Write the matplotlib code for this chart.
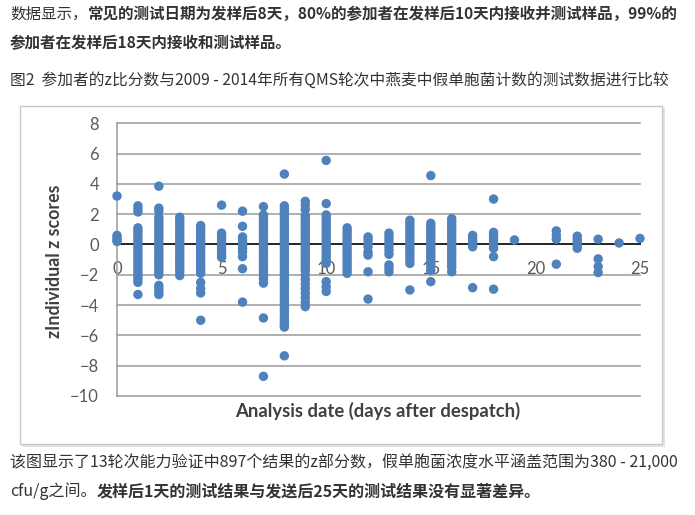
import numpy as np
import matplotlib
matplotlib.use("Agg")
import matplotlib.pyplot as plt
from matplotlib.patches import Rectangle

W, H = 695, 515

# z scores per analysis day (days after despatch)
z_d0 = [3.2, 0.6, 0.45, 0.3, 0.2]
z_d1 = [2.55, 2.35, 2.15, 1.1, 0.9, 0.7, 0.5, 0.3, 0.1, -0.1, -0.3, -0.5, -0.7, -0.9,
        -1.1, -1.3, -1.5, -1.7, -1.9, -2.1, -2.3, -2.5, -3.3]
z_d2 = [3.85, 2.4, 2.2, 1.8, 1.6, 1.4, 1.2, 1.0, 0.8, 0.6, 0.4, 0.2, 0.0, -0.2, -0.4,
        -0.6, -0.8, -1.0, -1.2, -1.4, -1.6, -1.8, -2.0, -2.7, -2.9, -3.1, -3.3]
z_d3 = [1.8, 1.6, 1.4, 1.2, 1.0, 0.8, 0.6, 0.4, 0.2, 0.0, -0.2, -0.4, -0.6, -0.8, -1.0,
        -1.2, -1.4, -1.6, -1.8, -2.05]
z_d4 = [1.25, 1.05, 0.85, 0.65, 0.45, 0.25, 0.05, -0.15, -0.35, -0.55, -0.75, -0.95,
        -1.15, -1.35, -1.55, -1.75, -1.9, -2.5, -2.9, -3.2, -5.0]
z_d5 = [2.6, 0.75, 0.55, 0.35, 0.15, -0.05, -0.25, -0.45, -0.65, -0.85]
z_d6 = [2.2, 1.2, 0.5, 0.3, 0.1, -0.1, -0.3, -0.5, -0.8, -1.6, -3.8]
z_d7 = [2.5, 1.95, 1.75, 1.55, 1.35, 1.15, 0.95, 0.75, 0.55, 0.35, 0.15, -0.05, -0.25,
        -0.45, -0.65, -0.85, -1.05, -1.25, -1.45, -1.65, -1.85, -2.05, -2.25, -2.55,
        -4.85, -8.7]
z_d8 = [4.65, 2.55, 2.35, 2.15, 1.95, 1.75, 1.55, 1.35, 1.15, 0.95, 0.75, 0.55, 0.35,
        0.15, -0.05, -0.25, -0.45, -0.65, -0.85, -1.05, -1.25, -1.45, -1.65, -1.85,
        -2.05, -2.25, -2.45, -2.65, -2.85, -3.05, -3.25, -3.45, -3.65, -3.85, -4.05,
        -4.25, -4.45, -4.7, -4.9, -5.1, -5.3, -5.45, -7.35]
z_d9 = [2.85, 2.6, 2.3, 1.9, 1.7, 1.5, 1.3, 1.1, 0.9, 0.7, 0.5, 0.3, 0.1, -0.1, -0.3,
        -0.5, -0.7, -0.9, -1.1, -1.3, -1.5, -1.7, -2.0, -2.3, -2.6, -2.9, -3.2, -3.5,
        -3.8, -4.1]
z_d10 = [5.55, 2.7, 1.95, 1.75, 1.55, 1.35, 1.15, 0.95, 0.75, 0.55, 0.35, 0.15, -0.05,
         -0.25, -0.45, -0.65, -0.85, -1.05, -1.25, -2.45, -2.8, -3.1]
z_d11 = [1.1, 0.9, 0.7, 0.5, 0.3, 0.1, -0.1, -0.3, -0.5, -0.7, -0.9, -1.1, -1.3, -1.5,
         -1.7, -1.9]
z_d12 = [0.5, 0.3, 0.05, -0.15, -0.5, -0.7, -1.8, -3.6]
z_d13 = [0.75, 0.5, 0.3, 0.1, -0.15, -0.4, -0.65, -1.35, -1.55, -1.8]
z_d14 = [1.6, 1.4, 1.2, 1.0, 0.8, 0.6, 0.4, 0.2, 0.0, -0.2, -0.4, -0.6, -0.8, -1.0,
         -1.25, -3.0]
z_d15 = [4.55, 1.4, 1.2, 1.0, 0.8, 0.6, 0.4, 0.2, 0.0, -0.2, -0.4, -0.6, -0.8, -1.0,
         -1.2, -1.4, -1.7, -2.45]
z_d16 = [1.7, 1.5, 1.3, 1.1, 0.9, 0.7, 0.5, 0.3, 0.1, -0.1, -0.3, -0.5, -0.7, -0.9,
         -1.1, -1.3, -1.5, -1.8]
z_d17 = [0.6, 0.4, 0.2, 0.0, -0.15, -2.85]
z_d18 = [3.0, 0.8, 0.6, 0.4, 0.2, 0.0, -0.25, -0.8, -2.95]
z_d19 = [0.3]
z_d21 = [0.9, 0.6, 0.35, -1.3]
z_d22 = [0.55, 0.35, 0.15, -0.05, -0.25]
z_d23 = [0.35, -0.95, -1.45, -1.85]
z_d24 = [0.1]
z_d25 = [0.4]

day_values = [0, 1, 2, 3, 4, 5, 6, 7, 8, 9, 10, 11, 12, 13, 14, 15, 16, 17, 18, 19,
              21, 22, 23, 24, 25]
day_scores = [z_d0, z_d1, z_d2, z_d3, z_d4, z_d5, z_d6, z_d7, z_d8, z_d9, z_d10, z_d11,
              z_d12, z_d13, z_d14, z_d15, z_d16, z_d17, z_d18, z_d19, z_d21, z_d22,
              z_d23, z_d24, z_d25]

x_ticks = [0, 5, 10, 15, 20, 25]
y_ticks = [-10, -8, -6, -4, -2, 0, 2, 4, 6, 8]

xs, ys = [], []
for d, zs in zip(day_values, day_scores):
    xs += [d] * len(zs)
    ys += zs

cjk = ["Noto Sans CJK SC", "DejaVu Sans"]
txt_color = "#333333"

fig = plt.figure(figsize=(W / 100, H / 100), dpi=100)
fig.patch.set_facecolor("white")


def fx(x):
    return x / W


def fy(y):
    return 1 - y / H


# chart frame with a soft shadow
fig.patches.append(Rectangle((fx(22), fy(447)), fx(643), (447 - 108) / H,
                             transform=fig.transFigure, facecolor="#e4e4e4",
                             edgecolor="none", zorder=-3))
fig.patches.append(Rectangle((fx(20), fy(444)), fx(642), (444 - 106) / H,
                             transform=fig.transFigure, facecolor="white",
                             edgecolor="#c8c8c8", linewidth=1.0, zorder=-2))

ax = fig.add_axes([fx(117), fy(396), fx(640 - 117), (396 - 123.3) / H])
ax.set_facecolor("none")
ax.set_xlim(0, 25)
ax.set_ylim(-10, 8)
ax.set_axisbelow(True)

ax.scatter(xs, ys, s=46, color="#4F81BD", edgecolors="none", zorder=3, clip_on=False)

ax.set_yticks(y_ticks)
ax.set_xticks(x_ticks)
ax.yaxis.grid(True, color="#9a9a9a", linewidth=1.1)
for gl in ax.get_ygridlines():
    gl.set_clip_on(False)

for side in ["top", "right"]:
    ax.spines[side].set_visible(False)
ax.spines["left"].set_color("#9a9a9a")
ax.spines["left"].set_linewidth(1.1)
ax.spines["bottom"].set_position(("data", 0))
ax.spines["bottom"].set_color("#262626")
ax.spines["bottom"].set_linewidth(1.4)
ax.spines["bottom"].set_zorder(2.5)

ax.tick_params(axis="y", length=0, pad=13, labelsize=12, labelcolor="#595959")
ax.tick_params(axis="x", length=0, pad=12, labelsize=12, labelcolor="#595959")
for lab in ax.get_xticklabels() + ax.get_yticklabels():
    lab.set_family("Lato")

fig.text(fx(55), fy(261), "zIndividual z scores", rotation=90, ha="center", va="center",
         fontsize=12.8, fontweight="bold", color="#404040", family="Lato")
fig.text(fx(378), fy(411), "Analysis date (days after despatch)", ha="center", va="center",
         fontsize=13.3, fontweight="bold", color="#404040", family="Lato")

renderer = fig.canvas.get_renderer()


def put_runs(x_px, y_px, runs, size=11.2, color=txt_color):
    x = x_px
    for s, weight in runs:
        t = fig.text(fx(x), fy(y_px), s, ha="left", va="center", fontsize=size,
                     fontweight=weight, color=color, family=cjk)
        bb = t.get_window_extent(renderer)
        x = bb.x1


put_runs(10, 14, [("数据显示，", "normal"),
                  ("常见的测试日期为发样后8天，80%的参加者在发样后10天内接收并测试样品，99%的", "bold")])
put_runs(10, 43, [("参加者在发样后18天内接收和测试样品。", "bold")])
put_runs(10, 80, [("图2  参加者的z比分数与2009 - 2014年所有QMS轮次中燕麦中假单胞菌计数的测试数据进行比较", "normal")],
         size=11.3)
put_runs(10, 462, [("该图显示了13轮次能力验证中897个结果的z部分数，假单胞菌浓度水平涵盖范围为380 - 21,000", "normal")],
         size=11.5)
put_runs(10, 491, [("cfu/g之间。", "normal"),
                   ("发样后1天的测试结果与发送后25天的测试结果没有显著差异。", "bold")], size=11.5)

fig.savefig("out.png", dpi=100, facecolor="white")
